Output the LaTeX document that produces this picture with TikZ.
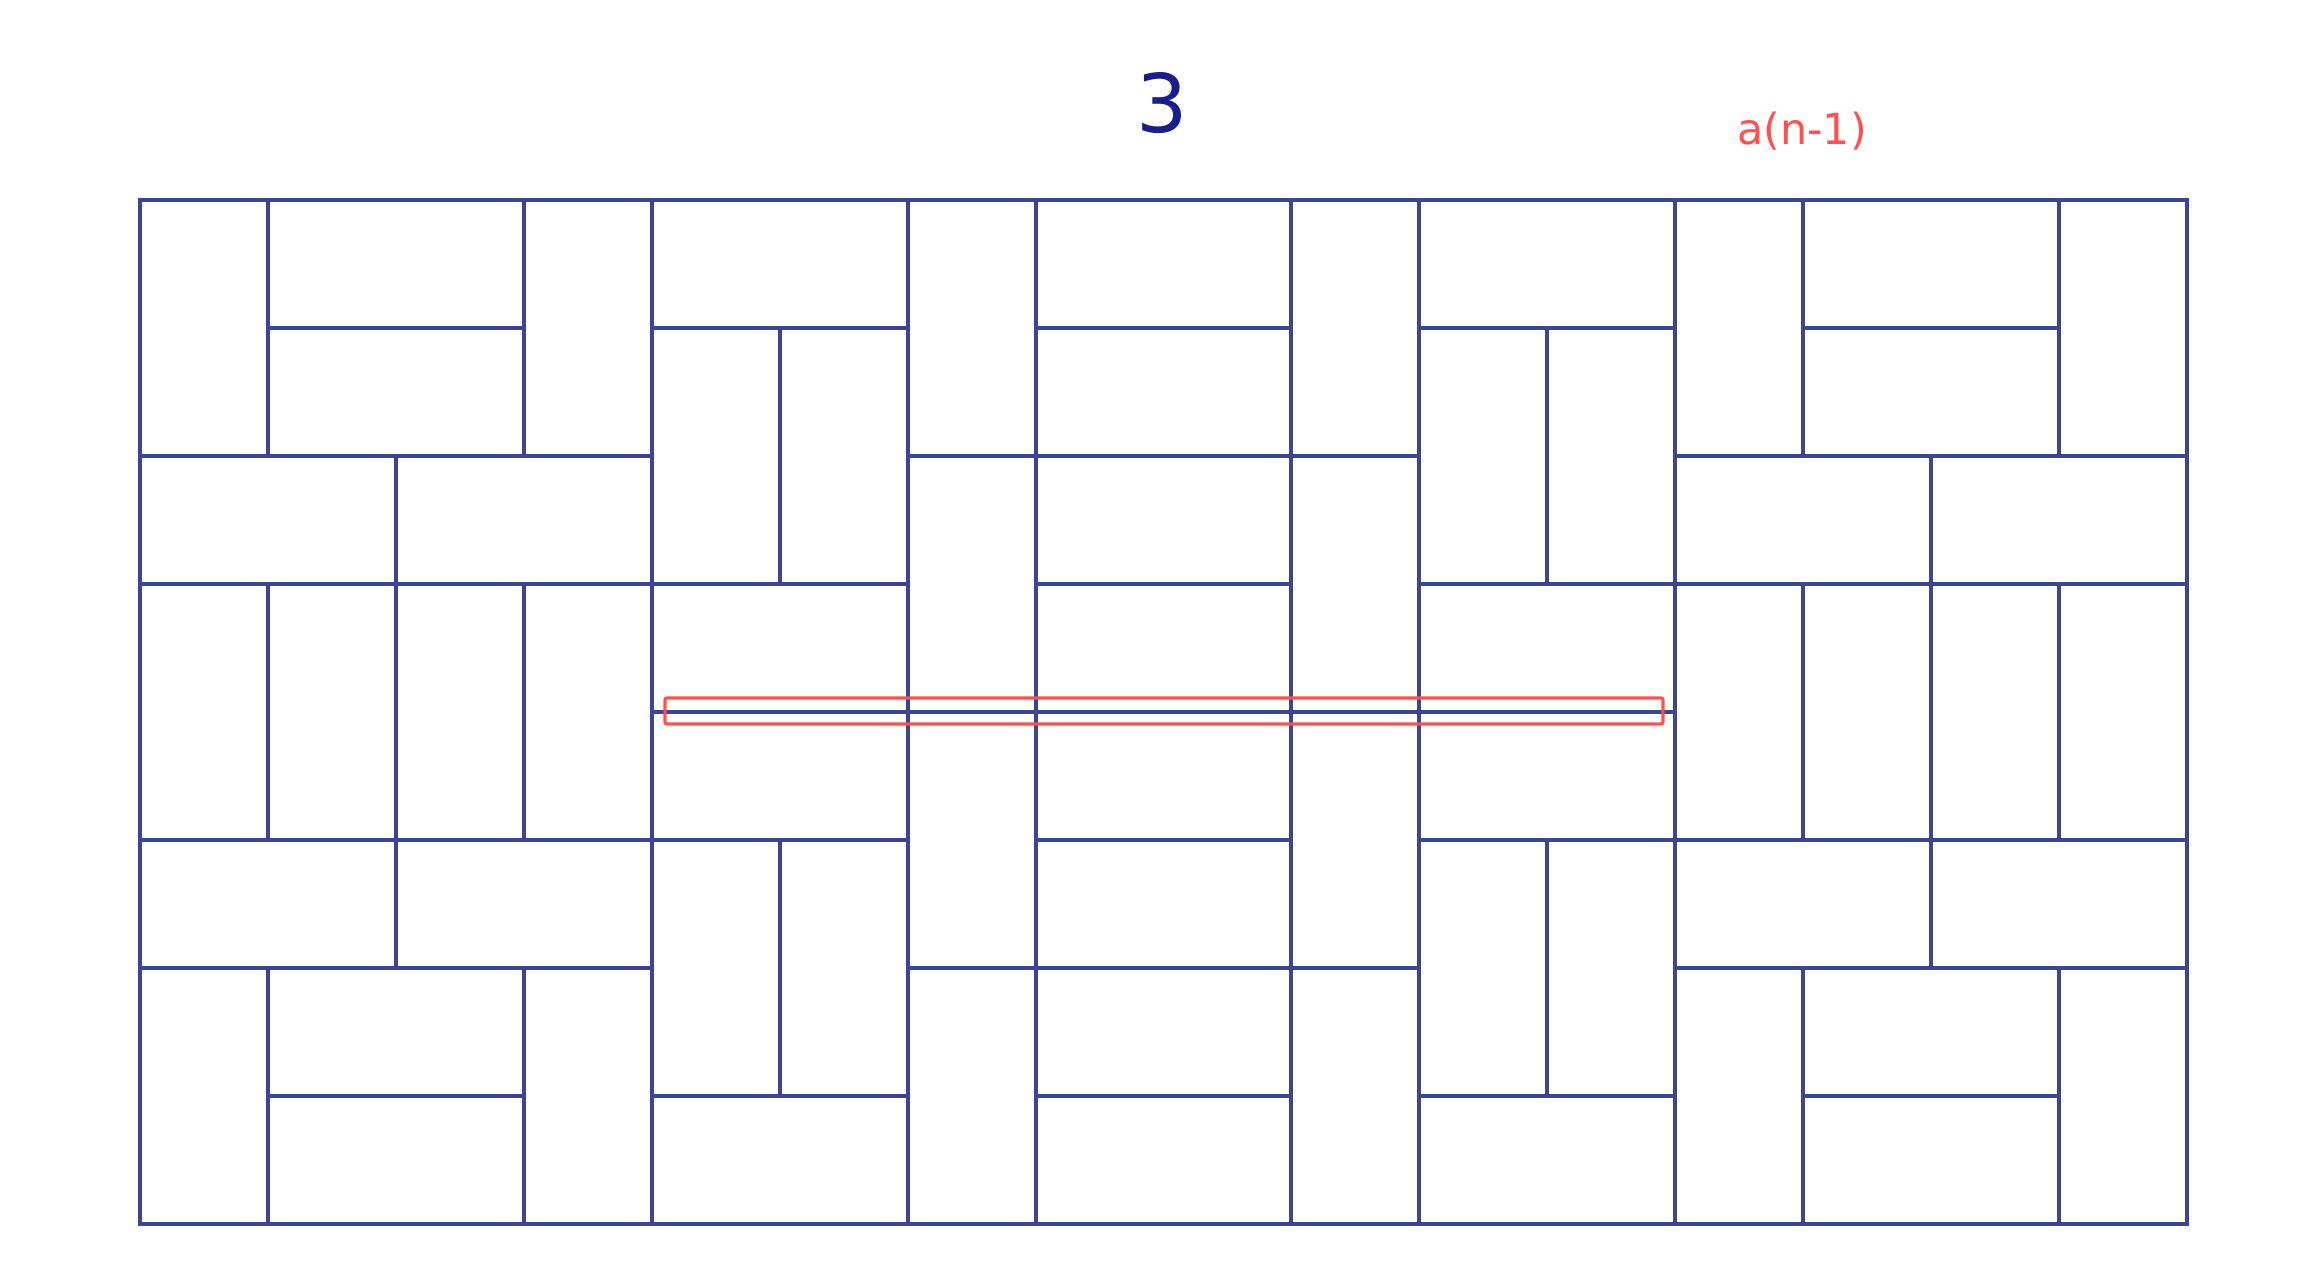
\documentclass[tikz,border=0pt]{standalone}
\usepackage{fontspec}
\setmainfont{DejaVu Sans}
\definecolor{tileblue}{RGB}{60,68,150}
\definecolor{titleblue}{RGB}{26,30,140}
\definecolor{hlred}{RGB}{255,80,80}
\begin{document}
\begin{tikzpicture}[x=0.01cm,y=0.01cm,
  tile/.style={draw=tileblue,line width=0.04cm,line join=miter},
  hlbox/.style={draw=hlred,line width=0.032cm,rounded corners=0.02cm}]
\useasboundingbox[fill=white] (0,0) rectangle (2314,-1276);
\node[text=titleblue,font=\fontsize{23}{28}\selectfont] (title) at (1162,-103) {3};
\node[text=hlred,font=\fontsize{12.2}{14}\selectfont] (label) at (1802,-131) {a(n-1)};
\begin{scope}[shift={(1.40cm,-2.00cm)},x=1.2785cm,y=-1.2785cm]
  % vertical dominoes (column, row of top cell)
  \foreach \c/\r in {0/0,3/0,4/1,5/1,6/0,9/0,10/1,11/1,12/0,15/0,
                     6/2,9/2,
                     0/3,1/3,2/3,3/3,12/3,13/3,14/3,15/3,6/4,9/4,
                     4/5,5/5,10/5,11/5,
                     0/6,3/6,6/6,9/6,12/6,15/6}
    \draw[tile] (\c,\r) rectangle ++(1,2);
  % horizontal dominoes (left column, row)
  \foreach \c/\r in {1/0,1/1,4/0,7/0,7/1,10/0,13/0,13/1,
                     0/2,2/2,7/2,12/2,14/2,
                     4/3,4/4,7/3,7/4,10/3,10/4,
                     0/5,2/5,7/5,12/5,14/5,
                     1/6,1/7,4/7,7/6,7/7,10/7,13/6,13/7}
    \draw[tile] (\c,\r) rectangle ++(2,1);
\end{scope}
\draw[hlbox] (665,-698) rectangle (1663,-724);
\end{tikzpicture}
\end{document}
